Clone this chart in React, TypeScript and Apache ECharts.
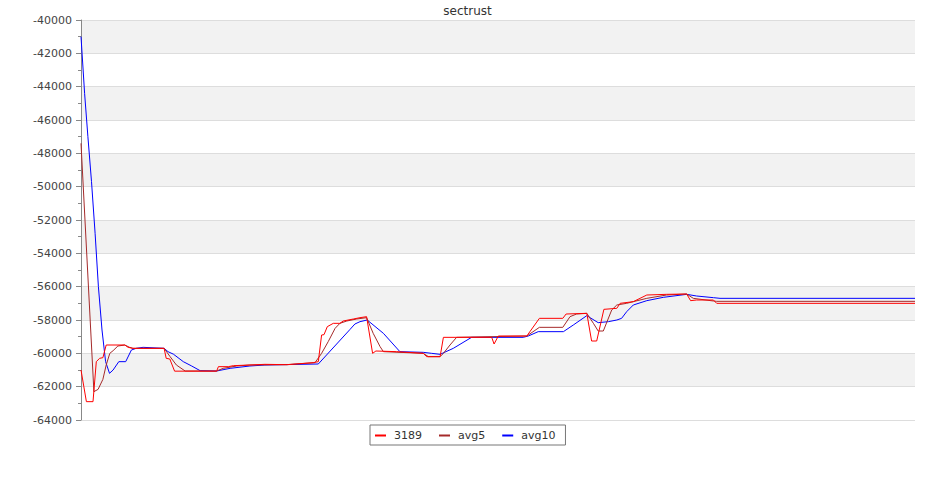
import React, { useEffect, useRef } from "react";
import * as echarts from "echarts";

const TITLE = "sectrust";
const SERIES_NAMES = ["3189", "avg5", "avg10"];
const COLORS = ["#ff0000", "#a52a2a", "#0000ff"];
const Y_MIN = -64000;
const Y_MAX = -40000;
const Y_STEP = 2000;
const X_MAX = 278;

const rawX = [0, 1.8, 4.0, 5.1, 6.2, 7.3, 8.4, 14.6, 15.7, 17.3, 27.7, 28.4, 29.6, 31.2, 45.2, 45.8, 49.1, 50.8, 56.3, 61.3, 68.6, 77.4, 79.1, 80.2, 81.0, 82.1, 84.1, 86.3, 87.4, 90.8, 93.0, 95.2, 97.2, 98.3, 105.2, 114.1, 115.2, 119.7, 120.8, 136.9, 137.7, 139.1, 148.6, 152.8, 160.6, 161.7, 168.6, 170.2, 171.9, 174.3, 178.6, 179.7, 184.1, 188.6, 195.2, 201.9, 203.2, 205.2, 210.8, 211.9, 278];
const rawY = [-61000, -62900, -62900, -60500, -60300, -60260, -59500, -59500, -59640, -59700, -59700, -60300, -60340, -61070, -61070, -60800, -60800, -60740, -60700, -60660, -60680, -60560, -60500, -58900, -58880, -58400, -58200, -58200, -58060, -57940, -57860, -57800, -60000, -59860, -59900, -60000, -60200, -60200, -59040, -59040, -59440, -58960, -58960, -57900, -57900, -57640, -57600, -59260, -59260, -57360, -57300, -57000, -56900, -56500, -56460, -56440, -56840, -56800, -56800, -57000, -57000];

const avg5X = [0, 4.3, 5.7, 7.3, 8.4, 9.6, 10.7, 12.3, 14.6, 16.2, 17.3, 27.7, 29.7, 31.8, 34.7, 45.2, 47.4, 51.9, 56.3, 68.6, 78.0, 80.2, 82.4, 84.7, 86.3, 88.6, 91.9, 95.2, 97.4, 99.7, 100.8, 114.1, 115.8, 119.7, 120.8, 123.0, 125.2, 148.6, 152.8, 160.6, 163.0, 165.2, 168.6, 170.8, 172.4, 174.1, 176.9, 178.6, 181.9, 184.1, 188.6, 195.2, 201.9, 204.1, 210.8, 211.9, 278];
const avg5Y = [-47400, -62300, -62160, -61560, -60700, -60000, -59840, -59560, -59500, -59640, -59700, -59700, -60200, -60700, -61060, -61060, -60900, -60760, -60700, -60680, -60560, -60000, -59300, -58500, -58200, -58060, -57940, -57860, -58800, -59600, -59900, -60000, -60200, -60200, -60000, -59500, -59040, -58960, -58440, -58440, -57800, -57640, -57600, -58200, -58660, -58660, -57400, -57100, -57000, -56900, -56700, -56500, -56440, -56700, -56860, -56880, -56880];

const avg10X = [0, 1.2, 2.3, 3.5, 4.7, 5.8, 7.0, 8.2, 9.5, 10.7, 12.6, 14.9, 16.8, 18.4, 20.7, 27.7, 29.0, 30.8, 34.1, 36.9, 39.7, 45.2, 49.7, 56.3, 61.3, 73.0, 79.1, 89.7, 91.3, 93.0, 95.4, 100.8, 106.3, 114.1, 116.9, 119.7, 124.1, 130.2, 147.4, 149.1, 152.4, 160.8, 164.1, 168.6, 172.4, 175.8, 178.6, 180.2, 181.9, 184.1, 188.6, 194.1, 201.9, 205.2, 210.8, 213.0, 278];
const avg10Y = [-41000, -44400, -47000, -49700, -52800, -56000, -58600, -60500, -61200, -61000, -60500, -60500, -59800, -59700, -59640, -59700, -59900, -60050, -60500, -60760, -61040, -61060, -60900, -60760, -60700, -60660, -60640, -58560, -58240, -58100, -58000, -58800, -59900, -59940, -60000, -60060, -59700, -59040, -59040, -58960, -58700, -58700, -58300, -57740, -58160, -58100, -58000, -57900, -57500, -57100, -56840, -56640, -56460, -56560, -56660, -56700, -56700];

const pairs = (xs: number[], ys: number[]) => xs.map((x, i) => [x, ys[i]]);

export default function App() {
  const ref = useRef<HTMLDivElement>(null);
  useEffect(() => {
    if (!ref.current) return;
    const chart = echarts.init(ref.current, null, { renderer: "svg" });
    const font = "DejaVu Sans";
    const data = [pairs(rawX, rawY), pairs(avg5X, avg5Y), pairs(avg10X, avg10Y)];
    chart.setOption({
      animation: false,
      backgroundColor: "#ffffff",
      title: {
        text: TITLE,
        left: "center",
        top: 0,
        textStyle: { fontFamily: font, fontSize: 12, fontWeight: "normal", color: "#333333" },
      },
      grid: { left: 81, right: 20, top: 20, bottom: 80, containLabel: false },
      legend: {
        left: 370,
        top: 425,
        data: SERIES_NAMES,
        icon: "rect",
        itemWidth: 11,
        itemHeight: 2,
        itemGap: 17,
        borderColor: "#777777",
        borderWidth: 1,
        borderRadius: 0,
        padding: [5, 10, 4, 5],
        backgroundColor: "#ffffff",
        textStyle: { fontFamily: font, fontSize: 11, color: "#333333", padding: [0, 0, 0, 3] },
      },
      xAxis: {
        type: "value",
        min: 0,
        max: X_MAX,
        show: true,
        axisLine: { show: false },
        axisTick: { show: false },
        axisLabel: { show: false },
        splitLine: { show: false },
      },
      yAxis: {
        type: "value",
        min: Y_MIN,
        max: Y_MAX,
        interval: Y_STEP,
        axisLine: { show: true, lineStyle: { color: "#888888", width: 1 } },
        axisTick: { show: true, length: 5, lineStyle: { color: "#888888" } },
        minorTick: { show: true, splitNumber: 2, length: 3, lineStyle: { color: "#888888" } },
        axisLabel: {
          fontFamily: font,
          fontSize: 11,
          color: "#444444",
          margin: 9,
          formatter: (v: number) => String(v),
        },
        splitLine: { show: true, lineStyle: { color: "#dddddd", width: 1 } },
        splitArea: { show: true, areaStyle: { color: ["#ffffff", "#f2f2f2"] } },
      },
      series: SERIES_NAMES.map((name, i) => ({
        name,
        type: "line",
        data: data[i],
        showSymbol: false,
        symbol: "none",
        lineStyle: { width: 1, color: COLORS[i] },
        itemStyle: { color: COLORS[i] },
        z: 3 - i,
      })),
    });
    return () => chart.dispose();
  }, []);
  return <div ref={ref} style={{ position: "fixed", left: 0, top: 0, width: 935, height: 500 }} />;
}
